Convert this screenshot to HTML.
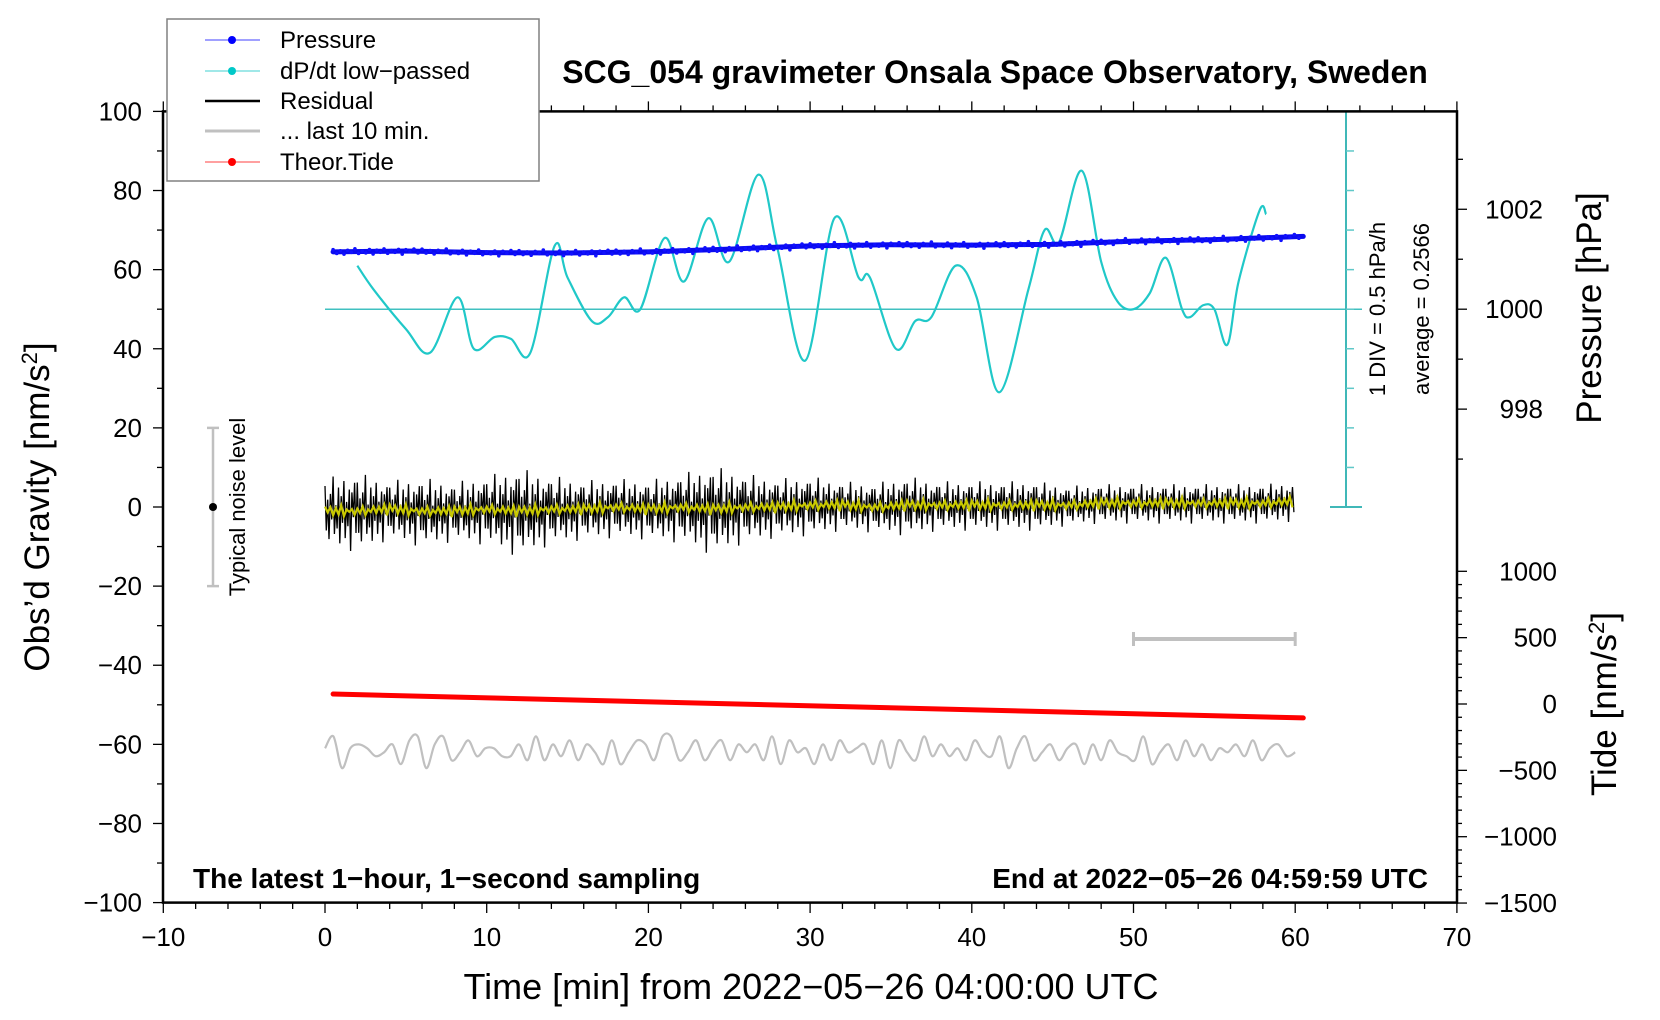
<!DOCTYPE html>
<html><head><meta charset="utf-8">
<style>
html,body{margin:0;padding:0;background:#fff;}
svg{display:block;font-family:"Liberation Sans",Arial,sans-serif;}
</style></head>
<body>
<svg id="chart" width="1660" height="1020" viewBox="0 0 1660 1020">
<g id="marks"></g>
<g id="axes"></g>
</svg>
<script>
// ---- data ----
const xTicks = [-10,0,10,20,30,40,50,60,70];
const yTicks = [100,80,60,40,20,0,-20,-40,-60,-80,-100];
const pressureTicks = [1002,1000,998];
const tideTicks = [1000,500,0,-500,-1000,-1500];
const pressureT = [0.5,5,10,15,20,25,30,35,40,45,50,55,60.5];
const pressureV = [64.5,64.7,64.3,64.2,64.5,65.2,66,66.3,66.2,66.4,67.2,67.6,68.4];
const dpdtT = [2,3,5,6.5,8.2,9.2,10.5,11.5,12.7,14.2,15,16.5,17.5,18.5,19.5,21,22.2,23.7,25,26.8,28,29.7,31.5,33,33.7,35.3,36.5,37.5,39,40.3,41.7,43.5,44.5,45.4,46.8,48,49,50,51,52,53,53.5,54.3,55,55.8,56.5,57.8,58.2];
const dpdtV = [61,55,45,39,53,40,43,42.5,39,66,58,47,48,53,50,68,57,73,62,84,65,37,73,58,58,40,47,48,61,53,29,55,70,67,85,62,52,50,54,63,50,48,51,50,41,57,75,74];
const residT = [0,2,4,6,8,10,12,14,16,18,20,22,24,26,28,30,32,34,36,38,40,42,44,46,48,50,52,54,56,58,60];
const residAmp = [7,8,6,7,6,7,9,7,6,6,6,7,9,7,6,6,5,5,6,5,5,5,5,4,4,4,4,4,4,4,4];
const residMean = [-1,-1,-0.5,-1,-1,-0.5,-1,-0.5,-0.5,0,-0.5,0,-0.5,0,0,0.5,0.5,0,0.5,0.5,0.5,0.5,0.5,0.5,1,1,1,1,1,1,1.5];
const residPattern = [0.9,-0.7,0.4,-1,0.6,-0.3,1.2,-0.8,0.2,-0.6,0.8,-1.1,0.5,-0.4,1,-0.9,0.3,-0.5,0.7,-1.3,0.6,-0.2,0.9,-0.7];
const tideT = [0.5,60.5];
const tideV = [75,-105];
const grayV = [-61,-58,-66,-61,-60,-61,-63,-62,-60,-65,-59,-58,-66,-60,-58,-64,-62,-59,-63,-61,-61,-63,-63,-60,-64,-58,-64,-60,-63,-59,-64,-60,-62,-65,-59,-65,-62,-59,-60,-64,-58,-58,-64,-62,-59,-64,-61,-59,-64,-60,-62,-60,-64,-58,-65,-59,-62,-61,-65,-60,-64,-59,-62,-61,-60,-65,-59,-66,-59,-62,-64,-58,-63,-60,-63,-61,-64,-59,-62,-63,-58,-66,-61,-58,-64,-62,-60,-64,-61,-60,-65,-60,-64,-59,-62,-63,-64,-58,-65,-62,-60,-64,-59,-63,-60,-64,-61,-62,-60,-63,-59,-64,-61,-60,-63,-62];

// ---- scales ----
const X = t => 325 + t*16.17;
const Y = g => 507 - g*3.956;
const YP = p => Y(50 + (p-1000)*12.63);
const YT = v => 704 - v*0.1327;
const NS = 'http://www.w3.org/2000/svg';
const marks = document.getElementById('marks');
const axes = document.getElementById('axes');
function mk(tag, attrs, parent){const e=document.createElementNS(NS,tag);for(const k in attrs)e.setAttribute(k,attrs[k]);(parent||marks).appendChild(e);return e;}

let e;
e = mk('line',{x1:325,y1:Y(50),x2:1362,y2:Y(50),stroke:'#40c0c0','stroke-width':1.5});


e = mk('line',{x1:1346,y1:Y(100),x2:1346,y2:Y(0),stroke:'#40b8b8','stroke-width':2});


[100,0].forEach(v=>{mk('line',{x1:1330,y1:Y(v),x2:1362,y2:Y(v),stroke:'#40b8b8','stroke-width':2});});
for(let i=1;i<10;i++){const g=i*10;mk('line',{x1:1346,y1:Y(g),x2:1354,y2:Y(g),stroke:'#60c8c8','stroke-width':1.5});}

function smooth(pts){let d='M'+pts[0][0]+','+pts[0][1];for(let i=0;i<pts.length-1;i++){const p0=pts[i-1]||pts[i],p1=pts[i],p2=pts[i+1],p3=pts[i+2]||p2;const c1=[p1[0]+(p2[0]-p0[0])/6,p1[1]+(p2[1]-p0[1])/6],c2=[p2[0]-(p3[0]-p1[0])/6,p2[1]-(p3[1]-p1[1])/6];d+=' C'+c1+' '+c2+' '+p2;}return d;}

e = mk('path',{d:smooth(dpdtT.map((t,i)=>[X(t),Y(dpdtV[i])])),fill:'none',stroke:'#20c8c8','stroke-width':2.2});



// pressure
const pPts=pressureT.map((t,i)=>[X(t),Y(pressureV[i])]);
e = mk('polyline',{points:pPts.map(p=>p.join(',')).join(' '),fill:'none',stroke:'#0a0aee','stroke-width':5,'stroke-linecap':'round'});


for(let i=0;i<pressureT.length-1;i++){for(let k=0;k<20;k++){const f=k/20;const t=pressureT[i]+(pressureT[i+1]-pressureT[i])*f;const v=pressureV[i]+(pressureV[i+1]-pressureV[i])*f;const o=residPattern[(i*20+k)%residPattern.length];
e = mk('circle',{cx:X(t),cy:Y(v+o*0.6),r:1.8,fill:'#1010ff'});

}}

// residual
let rd='';let n=0;
for(let i=0;i<residT.length-1;i++){for(let k=0;k<24;k++){const t=residT[i]+(residT[i+1]-residT[i])*k/24;const a=residAmp[i]+(residAmp[i+1]-residAmp[i])*k/24;const m=residMean[i]+(residMean[i+1]-residMean[i])*k/24;const v=m+a*residPattern[(n)%residPattern.length];rd+=(n?'L':'M')+X(t).toFixed(1)+','+Y(v).toFixed(1);n++;}}
e = mk('path',{d:rd,fill:'none',stroke:'#000','stroke-width':1.3});


let yd='';n=0;
for(let i=0;i<residT.length-1;i++){for(let k=0;k<12;k++){const t=residT[i]+(residT[i+1]-residT[i])*k/12;const m=residMean[i]+(residMean[i+1]-residMean[i])*k/12;const v=m+1.2*residPattern[(n*5)%residPattern.length];yd+=(n?'L':'M')+X(t).toFixed(1)+','+Y(v).toFixed(1);n++;}}
e = mk('path',{d:yd,fill:'none',stroke:'#c8c800','stroke-width':2.2});



// tide
e = mk('line',{x1:X(tideT[0]),y1:YT(tideV[0]),x2:X(tideT[1]),y2:YT(tideV[1]),stroke:'#ff0000','stroke-width':5,'stroke-linecap':'round'});



// gray last 10 min
e = mk('path',{d:smooth(grayV.map((v,i)=>[+X(i*60/(grayV.length-1)).toFixed(1),+Y(v).toFixed(1)])),fill:'none',stroke:'#c0c0c0','stroke-width':2.2});


e = mk('line',{x1:X(50),y1:639,x2:X(60),y2:639,stroke:'#c0c0c0','stroke-width':4});


[50,60].forEach(t=>mk('line',{x1:X(t),y1:632,x2:X(t),y2:646,stroke:'#c0c0c0','stroke-width':3}));

e = mk('line',{x1:213,y1:Y(20),x2:213,y2:Y(-20),stroke:'#c0c0c0','stroke-width':2.5});


[20,-20].forEach(v=>mk('line',{x1:207,y1:Y(v),x2:219,y2:Y(v),stroke:'#c0c0c0','stroke-width':2.5}));
mk('circle',{cx:213,cy:Y(0),r:4,fill:'#000'});

// ---- axes ----
e = mk('rect',{x:163,y:Y(100),width:1294,height:Y(-100)-Y(100),fill:'none',stroke:'#000','stroke-width':2.5},axes);


for(let t=-10;t<=70;t+=2){const major=t%10===0;mk('line',{x1:X(t),y1:903,x2:X(t),y2:903+(major?10:6),stroke:'#000','stroke-width':1.3},axes);mk('line',{x1:X(t),y1:Y(100),x2:X(t),y2:Y(100)-(major?10:6),stroke:'#000','stroke-width':1.3},axes);}
xTicks.forEach(t=>{e=mk('text',{x:X(t),y:946,'text-anchor':'middle','font-size':26},axes);e.textContent=String(t).replace('-','\u2212');});
for(let g=-100;g<=100;g+=10){const major=g%20===0;mk('line',{x1:163,y1:Y(g),x2:163-(major?10:6),y2:Y(g),stroke:'#000','stroke-width':1.3},axes);}
yTicks.forEach(g=>{e=mk('text',{x:142,y:Y(g)+9,'text-anchor':'end','font-size':26},axes);e.textContent=String(g).replace('-','\u2212');});
for(let p=997;p<=1003;p++){const major=p%2===0;mk('line',{x1:1457,y1:YP(p),x2:1457+(major?10:6),y2:YP(p),stroke:'#000','stroke-width':1.3},axes);}
pressureTicks.forEach(p=>{e=mk('text',{x:1543,y:YP(p)+9,'text-anchor':'end','font-size':26},axes);e.textContent=p;});
for(let v=-1500;v<=1000;v+=100){const major=v%500===0;mk('line',{x1:1457,y1:YT(v),x2:1457+(major?10:5),y2:YT(v),stroke:'#000','stroke-width':1.3},axes);}
tideTicks.forEach(v=>{e=mk('text',{x:1557,y:YT(v)+9,'text-anchor':'end','font-size':26},axes);e.textContent=String(v).replace('-','\u2212');});
</script>
<svg width="1660" height="1020" style="position:absolute;left:0;top:0">
<g font-family="Liberation Sans, Arial, sans-serif">
<text x="995" y="83" text-anchor="middle" font-size="32" font-weight="bold">SCG_054 gravimeter Onsala Space Observatory, Sweden</text>
<text x="811" y="999" text-anchor="middle" font-size="36">Time [min] from 2022−05−26 04:00:00 UTC</text>
<text transform="translate(49,507) rotate(-90)" text-anchor="middle" font-size="35">Obs’d Gravity [nm/s<tspan font-size="22" dy="-12">2</tspan><tspan dy="12">]</tspan></text>
<text transform="translate(1601,308) rotate(-90)" text-anchor="middle" font-size="35">Pressure [hPa]</text>
<text transform="translate(1616,704) rotate(-90)" text-anchor="middle" font-size="35">Tide [nm/s<tspan font-size="22" dy="-12">2</tspan><tspan dy="12">]</tspan></text>
<text transform="translate(1385,309) rotate(-90)" text-anchor="middle" font-size="22">1 DIV = 0.5 hPa/h</text>
<text transform="translate(1429,309) rotate(-90)" text-anchor="middle" font-size="22">average = 0.2566</text>
<text transform="translate(245,507) rotate(-90)" text-anchor="middle" font-size="22">Typical noise level</text>
<text x="193" y="888" font-size="28" font-weight="bold">The latest 1−hour, 1−second sampling</text>
<text x="1428" y="888" text-anchor="end" font-size="28" font-weight="bold">End at 2022−05−26 04:59:59 UTC</text>
</g>
<g font-family="Liberation Sans, sans-serif">
<rect x="167" y="19" width="372" height="162" fill="#fff" stroke="#808080" stroke-width="1.5"/>
<line x1="205" y1="40" x2="260" y2="40" stroke="#4040ff" stroke-width="1"/><circle cx="232" cy="40" r="4" fill="#0000ff"/>
<text x="280" y="48" font-size="24">Pressure</text>
<line x1="205" y1="71" x2="260" y2="71" stroke="#40d0d0" stroke-width="1"/><circle cx="232" cy="71" r="4" fill="#00c8c8"/>
<text x="280" y="79" font-size="24">dP/dt low−passed</text>
<line x1="205" y1="101" x2="260" y2="101" stroke="#000" stroke-width="2.5"/>
<text x="280" y="109" font-size="24">Residual</text>
<line x1="205" y1="131" x2="260" y2="131" stroke="#c0c0c0" stroke-width="3"/>
<text x="280" y="139" font-size="24">... last 10 min.</text>
<line x1="205" y1="162" x2="260" y2="162" stroke="#ff4040" stroke-width="1"/><circle cx="232" cy="162" r="4" fill="#ff0000"/>
<text x="280" y="170" font-size="24">Theor.Tide</text>
</g>
</svg>
</body></html>
